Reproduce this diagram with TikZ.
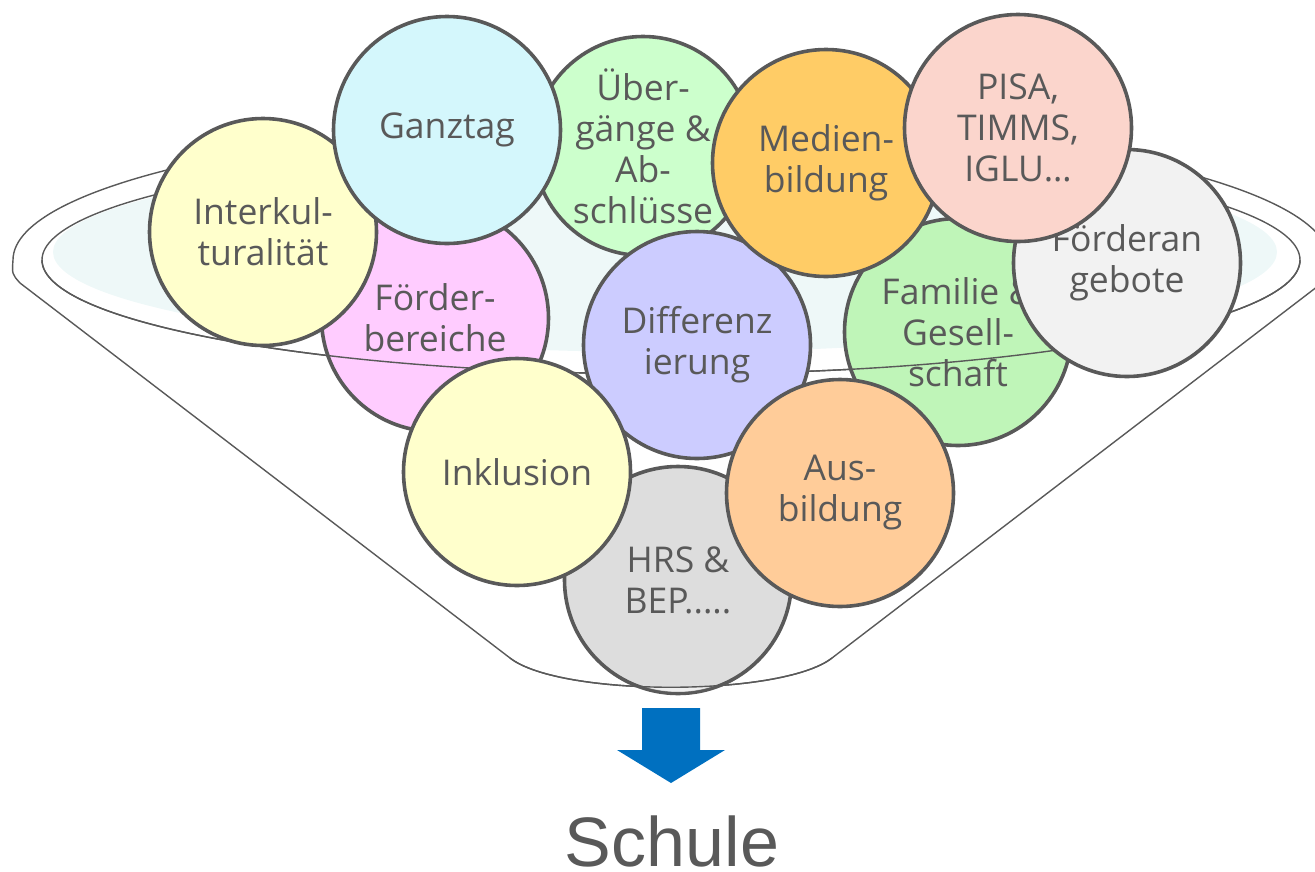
\documentclass[tikz,border=0pt]{standalone}
\usepackage{fontspec}
\newfontfamily\circfont{Open Sans}
\newfontfamily\schulefont{Liberation Sans}
\definecolor{lineGray}{HTML}{595959}
\definecolor{textGray}{HTML}{595959}
\definecolor{bowlFill}{HTML}{EEF8F8}
\definecolor{arrowBlue}{HTML}{0070C0}
\definecolor{cYellow}{HTML}{FFFFCC}
\definecolor{cCyan}{HTML}{D4F7FC}
\definecolor{cMint}{HTML}{CCFFCC}
\definecolor{cOrange}{HTML}{FFCC66}
\definecolor{cRose}{HTML}{FBD5CC}
\definecolor{cLight}{HTML}{F2F2F2}
\definecolor{cGreen}{HTML}{BFF5B8}
\definecolor{cPink}{HTML}{FFCCFF}
\definecolor{cLilac}{HTML}{CCCCFF}
\definecolor{cApricot}{HTML}{FFCC99}
\definecolor{cGray}{HTML}{DDDDDD}
\begin{document}
\begin{tikzpicture}[x=1pt,y=-1pt,
  ball/.style={circle, draw=lineGray, line width=3.6pt, minimum size=227pt, inner sep=0pt,
    align=center, text=textGray, font=\circfont\fontsize{35.5}{41}\selectfont},
  funnel/.style={draw=lineGray, line width=1.4pt}]
\useasboundingbox (0,0) rectangle (1315,871);
\clip (0,0) rectangle (1315,871);
% bowl
\fill[bowlFill] (665,252) ellipse [x radius=612, y radius=100];
\draw[funnel] (13,260) arc[start angle=180, end angle=360, x radius=658, y radius=140]
  .. controls (1330,272) .. (1322,283) -- (832,658)
  .. controls (782,697) and (560,697) .. (510,658) -- (20,283)
  .. controls (12,274) .. (13,260) -- cycle;
\draw[funnel] (671,260) ellipse [x radius=629, y radius=114];
% back circles
\node[ball, fill=cPink] (foerderb) at (435,318) {Förder-\\bereiche};
\node[ball, fill=cGreen] (familie) at (958,332) {Familie \&\\Gesell-\\schaft};
\node[ball, fill=cMint, minimum size=219pt] (uebergaenge) at (643,146) {Über-\\gänge \&\\Ab-\\schlüsse};
\node[ball, fill=cGray] (hrs) at (678,580) {HRS \&\\BEP.....};
% front parts of the funnel
\draw[funnel] (42,260) arc[start angle=180, end angle=0, x radius=629, y radius=114];
\begin{scope}
  \clip (678,580) circle (112);
  \fill[white, fill opacity=0.55] (510,658) .. controls (560,697) and (782,697) .. (832,658) -- (832,720) -- (510,720) -- cycle;
\end{scope}
\draw[funnel] (510,658) .. controls (560,697) and (782,697) .. (832,658);
% front circles
\node[ball, fill=cYellow] (interk) at (263,232) {Interkul-\\turalität};
\node[ball, fill=cCyan] (ganztag) at (447,130) {Ganztag};
\node[ball, fill=cLilac] (diff) at (697,345) {Differenz\\ierung};
\node[ball, fill=cYellow] (inkl) at (517,472) {Inklusion};
\node[ball, fill=cApricot] (ausb) at (840,493) {Aus-\\bildung};
\node[ball, fill=cOrange] (medien) at (826,163) {Medien-\\bildung};
\node[ball, fill=cLight] (foerdera) at (1127,263) {Förderan\\gebote};
\node[ball, fill=cRose] (pisa) at (1018,128) {PISA,\\TIMMS,\\IGLU…};
% arrow and result
\fill[arrowBlue] (642,708) -- (700,708) -- (700,750) -- (725,750) -- (671,783)
  -- (617,750) -- (642,750) -- cycle;
\node[anchor=base, text=textGray, font=\schulefont\fontsize{70}{80}\selectfont, inner sep=0pt]
  (schule) at (672,866) {Schule};
\end{tikzpicture}
\end{document}
